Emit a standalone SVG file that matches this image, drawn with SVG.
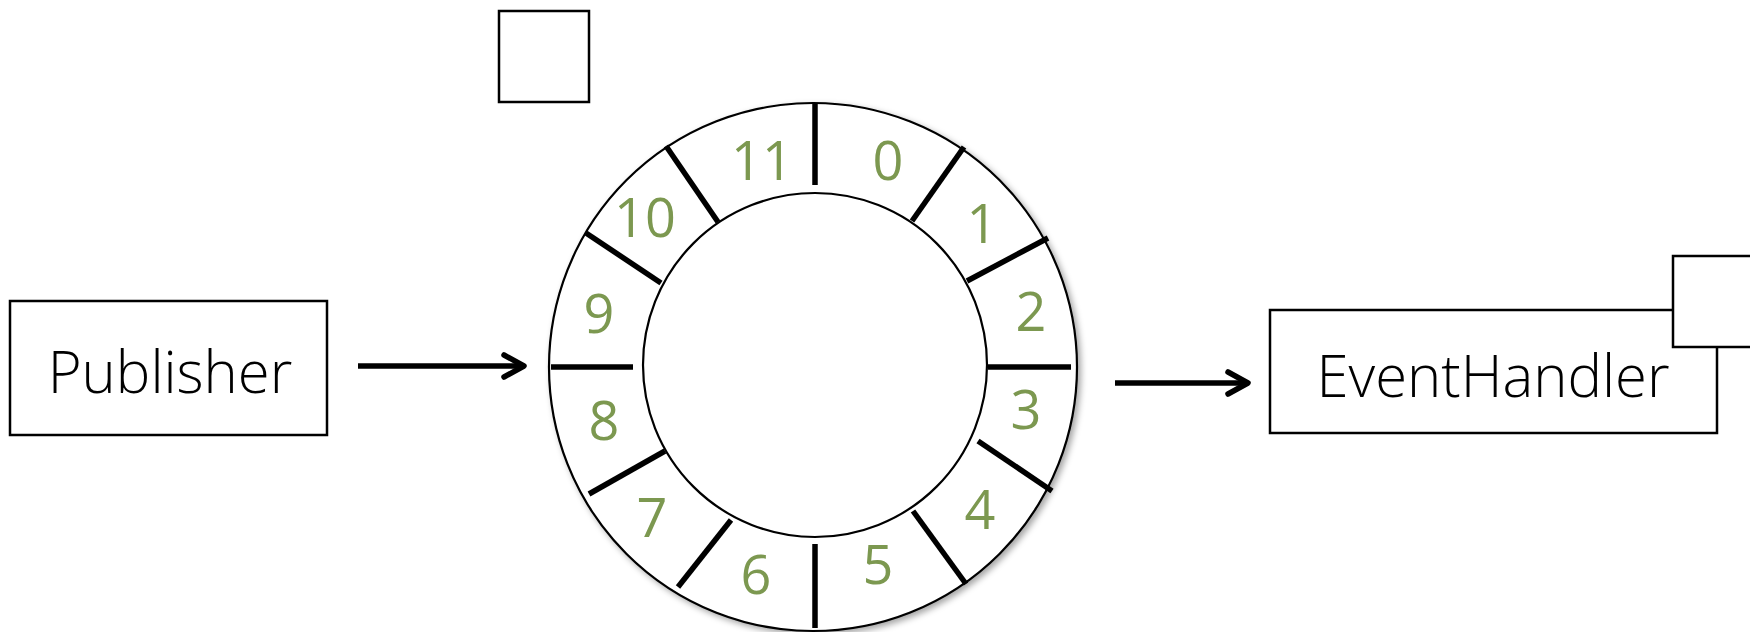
<svg xmlns="http://www.w3.org/2000/svg" width="1750" height="632" viewBox="0 0 1750 632">
<style>
.box{fill:#fff;stroke:#000;stroke-width:2.5}
.ring{fill:#fff;stroke:#000;stroke-width:2.2}
.div{stroke:#000;stroke-width:5.5;stroke-linecap:butt}
.lbl{font-family:"Open Sans","Liberation Sans",sans-serif;font-weight:300;font-size:58px;fill:#000;text-anchor:middle}
.num{font-family:"Open Sans","Liberation Sans",sans-serif;font-weight:400;font-size:54px;fill:#7c9850;text-anchor:middle}
.conn{stroke:#000;stroke-width:5.5;fill:none}
</style>
<defs>
<filter id="sh" x="-10%" y="-10%" width="120%" height="120%">
<feDropShadow dx="3" dy="3" stdDeviation="3" flood-color="#000" flood-opacity="0.35"/>
</filter>
<marker id="ah" markerUnits="userSpaceOnUse" markerWidth="32" markerHeight="32" refX="24" refY="16" orient="auto">
<path d="M4,5 L24,16 L4,27" fill="none" stroke="#000" stroke-width="5.5" stroke-linecap="round" stroke-linejoin="round"/>
</marker>
</defs>
<rect width="1750" height="632" fill="#fff"/>
<g id="slot-top">
<rect class="box" x="499" y="11" width="90" height="91"/>
</g>
<g id="publisher">
<rect class="box" x="10" y="301" width="317" height="134"/>
<text class="lbl" x="170" y="393">Publisher</text>
</g>
<g id="ringbuffer">
<circle class="ring" cx="813" cy="367" r="264" filter="url(#sh)"/>
<circle class="ring" cx="815" cy="365" r="172"/>
<line class="div" x1="815" y1="104" x2="815" y2="185"/>
<line class="div" x1="912" y1="221" x2="964" y2="147"/>
<line class="div" x1="967" y1="281" x2="1048" y2="238"/>
<line class="div" x1="988" y1="367" x2="1071" y2="367"/>
<line class="div" x1="978" y1="441" x2="1052" y2="491"/>
<line class="div" x1="913" y1="511" x2="966" y2="584"/>
<line class="div" x1="815" y1="544" x2="815" y2="628"/>
<line class="div" x1="731" y1="520" x2="678" y2="587"/>
<line class="div" x1="665" y1="451" x2="589" y2="494"/>
<line class="div" x1="551" y1="367" x2="633" y2="367"/>
<line class="div" x1="661" y1="283" x2="586" y2="233"/>
<line class="div" x1="718" y1="222" x2="666" y2="146"/>
<text class="num" x="888" y="180">0</text>
<text class="num" x="982" y="243">1</text>
<text class="num" x="1031" y="331">2</text>
<text class="num" x="1026" y="429">3</text>
<text class="num" x="980" y="529">4</text>
<text class="num" x="878" y="584">5</text>
<text class="num" x="756" y="594">6</text>
<text class="num" x="652" y="537">7</text>
<text class="num" x="604" y="440">8</text>
<text class="num" x="599" y="333">9</text>
<text class="num" x="645" y="237">10</text>
<text class="num" x="762" y="180">11</text>
</g>
<g id="eventhandler">
<rect class="box" x="1270" y="310" width="447" height="123"/>
<text class="lbl" x="1493" y="397">EventHandler</text>
</g>
<g id="slot-right">
<rect class="box" x="1673" y="256" width="90" height="91"/>
</g>
<g id="connectors">
<line class="conn" x1="358" y1="366" x2="524" y2="366" marker-end="url(#ah)"/>
<line class="conn" x1="1115" y1="383" x2="1248" y2="383" marker-end="url(#ah)"/>
</g>
</svg>
